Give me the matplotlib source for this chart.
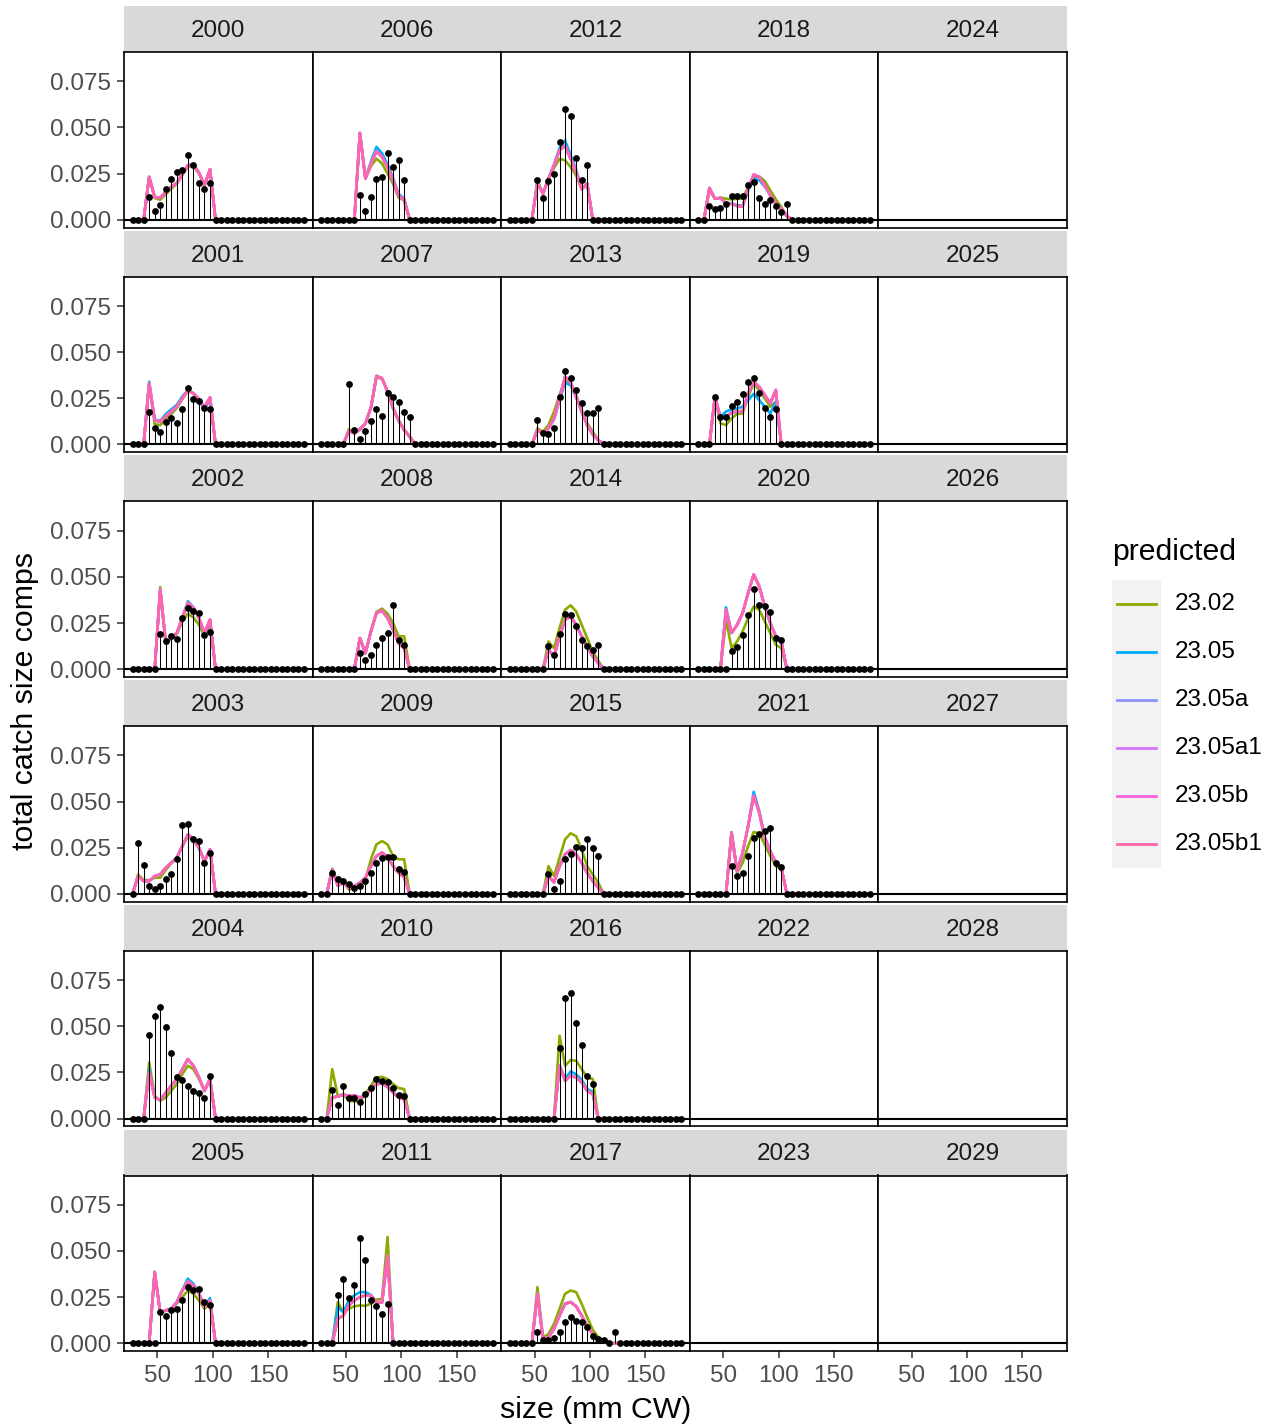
import numpy as np
import matplotlib
matplotlib.use("Agg")
import matplotlib.pyplot as plt

plt.rcParams['font.family'] = ['Liberation Sans', 'DejaVu Sans']

# size bins (mm CW)
sizes = np.arange(27.5, 185, 5)

# observed total catch size comps: year -> (first bin index, values)
obs = {
    2000: (3, [0.0123, 0.0049, 0.0082, 0.0168, 0.0219, 0.0259, 0.027, 0.035, 0.0295, 0.020, 0.0168, 0.020]),
    2001: (3, [0.0178, 0.0087, 0.0069, 0.012, 0.0141, 0.0114, 0.019, 0.0304, 0.0246, 0.0237, 0.0196, 0.019]),
    2002: (5, [0.0192, 0.015, 0.0178, 0.0165, 0.0277, 0.0332, 0.0313, 0.0304, 0.0187, 0.020]),
    2003: (1, [0.0277, 0.0154, 0.0042, 0.0027, 0.0045, 0.0078, 0.0105, 0.0187, 0.0371, 0.0377, 0.0295, 0.0286, 0.0168, 0.022]),
    2004: (3, [0.0455, 0.0558, 0.0603, 0.0498, 0.0353, 0.0223, 0.0208, 0.0174, 0.0147, 0.0136, 0.0114, 0.023]),
    2005: (5, [0.0172, 0.015, 0.0178, 0.0183, 0.0232, 0.0304, 0.0286, 0.0295, 0.0223, 0.0205]),
    2006: (7, [0.0136, 0.005, 0.0121, 0.0219, 0.0232, 0.0359, 0.0286, 0.0322, 0.0217]),
    2007: (5, [0.0326, 0.0078, 0.0027, 0.0072, 0.0129, 0.019, 0.0154, 0.0277, 0.0259, 0.0228, 0.0178, 0.0147]),
    2008: (7, [0.0087, 0.005, 0.0078, 0.0129, 0.0168, 0.0196, 0.0346, 0.016, 0.013]),
    2009: (2, [0.0114, 0.0078, 0.0069, 0.0054, 0.0033, 0.0042, 0.0069, 0.0114, 0.0168, 0.0196, 0.020, 0.020, 0.0132, 0.0118]),
    2010: (2, [0.0154, 0.0074, 0.0178, 0.0114, 0.0114, 0.0087, 0.0132, 0.0168, 0.0214, 0.0205, 0.0196, 0.0168, 0.0129, 0.0123]),
    2011: (3, [0.0263, 0.035, 0.0245, 0.0313, 0.0572, 0.0449, 0.0237, 0.020, 0.016, 0.0214]),
    2012: (5, [0.0214, 0.012, 0.0208, 0.0248, 0.0422, 0.0598, 0.0562, 0.0332, 0.0214, 0.0295]),
    2013: (5, [0.0132, 0.0063, 0.0056, 0.0087, 0.0259, 0.040, 0.0359, 0.0295, 0.0223, 0.0168, 0.0168, 0.020]),
    2014: (7, [0.0123, 0.0078, 0.019, 0.030, 0.0295, 0.0232, 0.016, 0.0123, 0.0105, 0.0132]),
    2015: (7, [0.0105, 0.0024, 0.0069, 0.019, 0.0214, 0.0255, 0.025, 0.0295, 0.0246, 0.0205]),
    2016: (9, [0.0382, 0.0654, 0.0679, 0.0516, 0.0399, 0.0232, 0.0187]),
    2017: (5, [0.006, 0.002, 0.002, 0.0027, 0.006, 0.0114, 0.0141, 0.0118, 0.0114, 0.0087, 0.004, 0.0024, 0.0015, 0.0, 0.006]),
    2018: (2, [0.0075, 0.006, 0.0065, 0.0087, 0.0129, 0.013, 0.0129, 0.0187, 0.0205, 0.012, 0.0087, 0.0109, 0.0072, 0.004, 0.0087]),
    2019: (3, [0.0259, 0.015, 0.015, 0.0208, 0.0232, 0.0274, 0.034, 0.0362, 0.0277, 0.0196, 0.015, 0.019]),
    2020: (6, [0.0101, 0.012, 0.0187, 0.0295, 0.0437, 0.035, 0.034, 0.031, 0.017, 0.016]),
    2021: (6, [0.015, 0.0096, 0.0114, 0.0205, 0.030, 0.0322, 0.034, 0.0359, 0.0168, 0.0147]),
}

# predicted, model 23.02
pred_2302 = {
    2000: (2, [0, 0.0232, 0.0118, 0.0108, 0.0138, 0.0168, 0.0195, 0.0242, 0.0288, 0.0292, 0.025, 0.0185, 0.0272, 0]),
    2001: (2, [0, 0.0325, 0.011, 0.0105, 0.0135, 0.0165, 0.0198, 0.0245, 0.029, 0.0277, 0.0245, 0.0198, 0.0252, 0]),
    2002: (4, [0, 0.0444, 0.0141, 0.0165, 0.019, 0.0259, 0.030, 0.028, 0.024, 0.0178, 0.025, 0]),
    2003: (0, [0, 0.0105, 0.0075, 0.0074, 0.0087, 0.0087, 0.013, 0.0165, 0.0195, 0.026, 0.031, 0.0292, 0.0248, 0.0175, 0.0238, 0]),
    2004: (2, [0, 0.0304, 0.0123, 0.0096, 0.0114, 0.015, 0.0187, 0.0241, 0.0286, 0.0268, 0.0214, 0.015, 0.0214, 0]),
    2005: (3, [0, 0.0386, 0.0165, 0.0178, 0.0185, 0.0215, 0.025, 0.0286, 0.0268, 0.0232, 0.0187, 0.0214, 0]),
    2006: (6, [0, 0.047, 0.0223, 0.029, 0.0331, 0.0305, 0.025, 0.0195, 0.012, 0.0105, 0]),
    2007: (4, [0, 0.0082, 0.006, 0.0082, 0.0114, 0.020, 0.0365, 0.0355, 0.0286, 0.0198, 0.0132, 0.008, 0.0045, 0]),
    2008: (6, [0, 0.0168, 0.0087, 0.0205, 0.031, 0.0328, 0.030, 0.025, 0.0178, 0.0178, 0]),
    2009: (1, [0, 0.0136, 0.006, 0.0063, 0.0024, 0.0033, 0.0051, 0.0078, 0.0187, 0.0268, 0.0286, 0.0268, 0.0205, 0.0187, 0.0187, 0]),
    2010: (1, [0, 0.0268, 0.0123, 0.0132, 0.0096, 0.0093, 0.0092, 0.0132, 0.0178, 0.0223, 0.0226, 0.0214, 0.0187, 0.0165, 0.016, 0]),
    2011: (2, [0, 0.0223, 0.0168, 0.0187, 0.020, 0.0205, 0.0203, 0.0214, 0.0237, 0.024, 0.0576, 0]),
    2012: (4, [0, 0.0214, 0.0141, 0.022, 0.028, 0.033, 0.0322, 0.0286, 0.024, 0.0165, 0.0196, 0]),
    2013: (4, [0, 0.0087, 0.0069, 0.0105, 0.0178, 0.0268, 0.035, 0.0332, 0.0268, 0.0187, 0.0114, 0.0069, 0.0024, 0]),
    2014: (6, [0, 0.015, 0.0114, 0.0223, 0.0322, 0.0346, 0.0313, 0.0241, 0.0168, 0.0096, 0.0045, 0]),
    2015: (6, [0, 0.015, 0.0096, 0.0196, 0.0295, 0.0328, 0.0313, 0.0241, 0.015, 0.0105, 0.006, 0]),
    2016: (8, [0, 0.0449, 0.0286, 0.0317, 0.0313, 0.0268, 0.0223, 0.0214, 0]),
    2017: (4, [0, 0.0304, 0.0033, 0.005, 0.0105, 0.0187, 0.0268, 0.0286, 0.0277, 0.0214, 0.0141, 0.0074, 0.0033, 0.0015, 0]),
    2018: (1, [0, 0.016, 0.0114, 0.012, 0.0114, 0.011, 0.0114, 0.0114, 0.0178, 0.0232, 0.0235, 0.021, 0.016, 0.011, 0.0069, 0.0015, 0]),
    2019: (2, [0, 0.0259, 0.0114, 0.0105, 0.0141, 0.0165, 0.0168, 0.0259, 0.033, 0.0295, 0.025, 0.0205, 0.0232, 0]),
    2020: (4, [0, 0.0268, 0.0114, 0.015, 0.0205, 0.0277, 0.034, 0.0322, 0.0259, 0.0196, 0.0132, 0.0114, 0]),
    2021: (5, [0, 0.0332, 0.0114, 0.0168, 0.0259, 0.0335, 0.0328, 0.0268, 0.0205, 0.015, 0.0136, 0]),
}

# predicted, model 23.05b1 (23.05a, 23.05a1 and 23.05b lie on the same curve)
pred_2305b1 = {
    2000: (2, [0, 0.0232, 0.0123, 0.012, 0.015, 0.0178, 0.020, 0.0246, 0.0295, 0.030, 0.0255, 0.0187, 0.0274, 0]),
    2001: (2, [0, 0.0332, 0.0132, 0.0123, 0.0154, 0.0178, 0.0205, 0.025, 0.0292, 0.0277, 0.0245, 0.020, 0.0255, 0]),
    2002: (4, [0, 0.0431, 0.0141, 0.0168, 0.0196, 0.0277, 0.0359, 0.0332, 0.0277, 0.0196, 0.0268, 0]),
    2003: (0, [0, 0.0096, 0.0069, 0.0069, 0.0096, 0.0105, 0.0141, 0.0168, 0.0196, 0.0259, 0.0322, 0.0295, 0.025, 0.0178, 0.0241, 0]),
    2004: (2, [0, 0.025, 0.0114, 0.010, 0.0141, 0.0178, 0.0214, 0.0268, 0.0322, 0.0286, 0.0223, 0.015, 0.0214, 0]),
    2005: (3, [0, 0.0386, 0.0165, 0.0178, 0.0187, 0.0223, 0.0286, 0.0335, 0.0313, 0.0268, 0.0196, 0.0232, 0]),
    2006: (6, [0, 0.047, 0.0223, 0.0304, 0.0371, 0.034, 0.0286, 0.0214, 0.0132, 0.0109, 0]),
    2007: (4, [0, 0.0074, 0.006, 0.0082, 0.0114, 0.020, 0.0371, 0.0359, 0.0286, 0.0196, 0.0129, 0.0078, 0.0042, 0]),
    2008: (6, [0, 0.0168, 0.0087, 0.0205, 0.0304, 0.0317, 0.0277, 0.0214, 0.0141, 0.0114, 0]),
    2009: (1, [0, 0.0132, 0.0045, 0.006, 0.0033, 0.0042, 0.006, 0.0087, 0.015, 0.0205, 0.0223, 0.020, 0.015, 0.0114, 0.009, 0]),
    2010: (1, [0, 0.0114, 0.012, 0.0129, 0.0123, 0.0125, 0.0114, 0.0123, 0.016, 0.0187, 0.019, 0.0172, 0.0141, 0.0114, 0.0105, 0]),
    2011: (2, [0, 0.0132, 0.015, 0.0205, 0.0232, 0.025, 0.0259, 0.0259, 0.0223, 0.022, 0.0476, 0]),
    2012: (4, [0, 0.020, 0.0141, 0.0223, 0.0295, 0.0377, 0.040, 0.033, 0.026, 0.0165, 0.0196, 0]),
    2013: (4, [0, 0.0078, 0.006, 0.0087, 0.0141, 0.025, 0.0368, 0.0335, 0.0259, 0.0178, 0.0105, 0.0054, 0.0024, 0]),
    2014: (6, [0, 0.0105, 0.0069, 0.0178, 0.0268, 0.0286, 0.0241, 0.0178, 0.0123, 0.0069, 0.0033, 0]),
    2015: (6, [0, 0.0096, 0.0063, 0.015, 0.0214, 0.0237, 0.0214, 0.0168, 0.0114, 0.0069, 0.0033, 0]),
    2016: (8, [0, 0.0286, 0.0205, 0.0232, 0.0223, 0.0196, 0.015, 0.0132, 0]),
    2017: (4, [0, 0.0268, 0.0024, 0.0033, 0.0078, 0.015, 0.0214, 0.0223, 0.020, 0.015, 0.0096, 0.005, 0.0024, 0.0008, 0]),
    2018: (1, [0, 0.0172, 0.0114, 0.0118, 0.0087, 0.0087, 0.0074, 0.0072, 0.0168, 0.0245, 0.0232, 0.0187, 0.0132, 0.0087, 0.006, 0.002, 0]),
    2019: (2, [0, 0.0259, 0.0141, 0.015, 0.0172, 0.0178, 0.0181, 0.0277, 0.034, 0.0313, 0.0268, 0.0223, 0.0295, 0]),
    2020: (4, [0, 0.0322, 0.0196, 0.024, 0.0304, 0.0413, 0.0513, 0.0449, 0.034, 0.025, 0.0178, 0.015, 0]),
    2021: (5, [0, 0.0332, 0.0123, 0.0223, 0.0368, 0.0531, 0.044, 0.0304, 0.0232, 0.0168, 0.0141, 0]),
}

# predicted, model 23.05 where it departs from 23.05b1
pred_2305 = {
    2001: (2, [0, 0.034, 0.0135, 0.0128, 0.0165, 0.019, 0.0215, 0.026, 0.0295, 0.0275, 0.024, 0.019, 0.0245, 0]),
    2002: (4, [0, 0.043, 0.0141, 0.0168, 0.0196, 0.028, 0.0368, 0.0335, 0.0275, 0.0192, 0.0265, 0]),
    2004: (2, [0, 0.0268, 0.0114, 0.010, 0.0141, 0.0178, 0.0214, 0.0268, 0.0322, 0.0286, 0.0223, 0.015, 0.0214, 0]),
    2005: (3, [0, 0.0386, 0.0165, 0.0178, 0.0187, 0.0225, 0.029, 0.035, 0.0322, 0.0272, 0.0196, 0.0245, 0]),
    2006: (6, [0, 0.047, 0.0225, 0.0315, 0.0395, 0.036, 0.030, 0.0225, 0.014, 0.0115, 0]),
    2011: (2, [0, 0.0196, 0.0168, 0.0232, 0.0259, 0.0277, 0.0277, 0.0262, 0.0223, 0.022, 0.0476, 0]),
    2012: (4, [0, 0.020, 0.0141, 0.0223, 0.030, 0.039, 0.043, 0.035, 0.027, 0.017, 0.0196, 0]),
    2013: (4, [0, 0.0078, 0.006, 0.0087, 0.0135, 0.024, 0.0335, 0.032, 0.0255, 0.0178, 0.0105, 0.0054, 0.0024, 0]),
    2016: (8, [0, 0.029, 0.0215, 0.0255, 0.024, 0.021, 0.016, 0.0145, 0]),
    2018: (1, [0, 0.0172, 0.0114, 0.0118, 0.009, 0.009, 0.0078, 0.0076, 0.016, 0.0222, 0.0215, 0.018, 0.0132, 0.0087, 0.006, 0.002, 0]),
    2019: (2, [0, 0.0259, 0.015, 0.0178, 0.019, 0.0195, 0.0205, 0.024, 0.0274, 0.024, 0.0205, 0.0168, 0.0232, 0]),
    2020: (4, [0, 0.0335, 0.0196, 0.024, 0.0304, 0.0413, 0.0513, 0.0449, 0.034, 0.025, 0.0178, 0.015, 0]),
    2021: (5, [0, 0.0332, 0.0123, 0.0223, 0.0368, 0.0553, 0.045, 0.031, 0.0232, 0.0168, 0.0141, 0]),
}

models = ['23.02', '23.05', '23.05a', '23.05a1', '23.05b', '23.05b1']
colors = ['#8CAB00', '#00ACFC', '#8B93FF', '#D575FE', '#F962DD', '#FF65AC']

years = list(range(2000, 2030))


def expand(entry):
    s, vals = entry
    out = np.zeros(len(sizes))
    out[s:s + len(vals)] = vals
    return out


def model_series(name, year):
    if name == '23.02':
        return expand(pred_2302[year])
    if name == '23.05':
        return expand(pred_2305.get(year, pred_2305b1[year]))
    return expand(pred_2305b1[year])


W, H = 1276, 1428
fig = plt.figure(figsize=(W / 100, H / 100), dpi=100)

x0, pw = 124, 188.6
top0, sh, ph, pitch = 6, 46, 175.5, 224.7


def px_axes(left, top, w, h):
    return fig.add_axes([left / W, 1 - (top + h) / H, w / W, h / H])


for k, yr in enumerate(years):
    col, row = k // 6, k % 6
    left = x0 + col * pw
    stop = top0 + row * pitch

    sax = px_axes(left, stop, pw, sh)
    sax.set_facecolor('#D9D9D9')
    for sp in sax.spines.values():
        sp.set_visible(False)
    sax.set_xticks([])
    sax.set_yticks([])
    sax.text(0.5, 0.46, str(yr), ha='center', va='center', fontsize=17.5,
             color='#1A1A1A', transform=sax.transAxes)

    ax = px_axes(left, stop + sh, pw, ph)
    ax.axhline(0, color='black', lw=1.5, zorder=1)
    if yr in obs:
        for name, c in zip(models, colors):
            ax.plot(sizes, model_series(name, yr), color=c, lw=1.9, zorder=2)
        o = expand(obs[yr])
        ax.vlines(sizes, 0, o, color='black', lw=0.75, zorder=3)
        ax.scatter(sizes, o, s=24, color='black', zorder=4, linewidths=0)

    ax.set_xlim(19.75, 190.25)
    ax.set_ylim(-0.0042, 0.0909)
    for sp in ax.spines.values():
        sp.set_color('black')
        sp.set_linewidth(1.2)
    ax.set_xticks([50, 100, 150])
    ax.set_yticks([0, 0.025, 0.05, 0.075])
    ax.tick_params(length=5, width=1.1, color='#333333', labelcolor='#4D4D4D',
                   labelsize=17.5)
    ax.tick_params(axis='x', pad=5)
    ax.tick_params(axis='y', pad=4)
    if row == 5:
        ax.set_xticklabels(['50', '100', '150'])
    else:
        ax.tick_params(axis='x', length=0, labelbottom=False)
    if col == 0:
        ax.set_yticklabels(['0.000', '0.025', '0.050', '0.075'])
    else:
        ax.tick_params(axis='y', length=0, labelleft=False)

fig.text(595.5 / W, 1 - 1410 / H, 'size (mm CW)', ha='center', va='center',
         fontsize=21.8)
fig.text(25 / W, 1 - 701 / H, 'total catch size comps', ha='center', va='center',
         rotation=90, fontsize=21.8)

# legend
fig.text(1112 / W, 1 - 552 / H, 'predicted', ha='left', va='center', fontsize=21.8)
lax = px_axes(1112, 580, 49, 288)
lax.set_facecolor('#F2F2F2')
for sp in lax.spines.values():
    sp.set_visible(False)
lax.set_xticks([])
lax.set_yticks([])
lax.set_xlim(0, 1)
lax.set_ylim(len(models), 0)
for j, (name, c) in enumerate(zip(models, colors)):
    lax.plot([0.1, 0.9], [j + 0.5, j + 0.5], color=c, lw=2)
    fig.text(1175 / W, 1 - (580 + 48 * j + 24) / H, name, ha='left', va='center',
             fontsize=17.5)

fig.savefig('out.png', dpi=100)
